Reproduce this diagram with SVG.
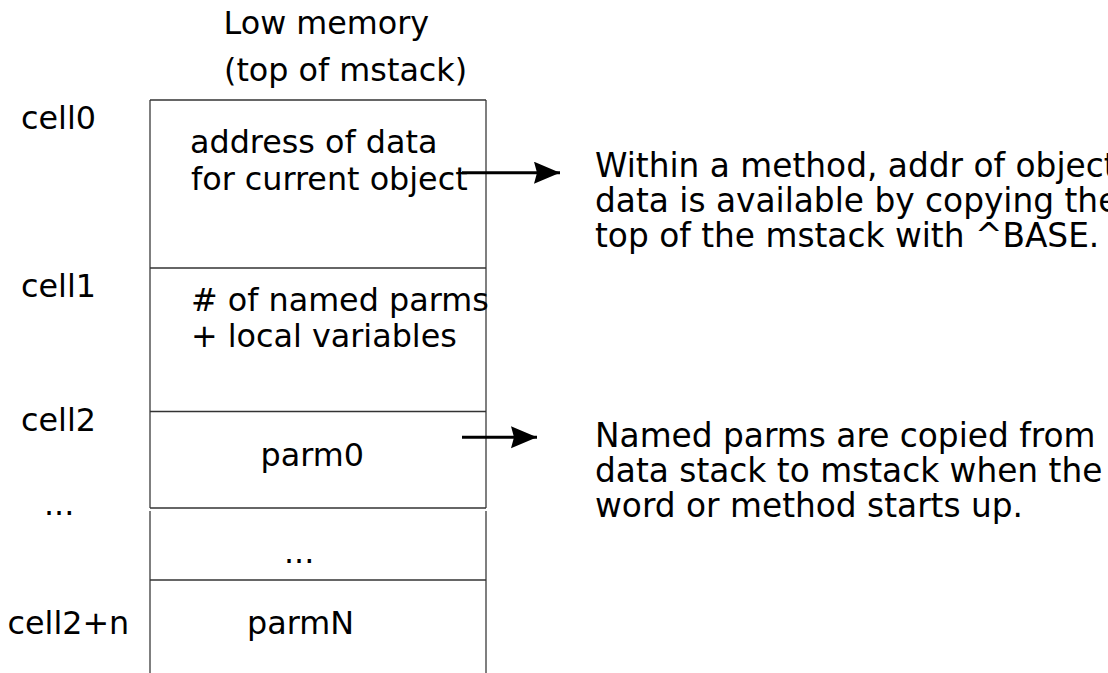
<svg xmlns="http://www.w3.org/2000/svg" width="1108" height="673" viewBox="0 0 1108 673">
<style>
text{font-family:"DejaVu Sans",sans-serif;font-size:31.8px;fill:#000}
.note text{font-size:32.8px}
.v{stroke:#7f7f7f;stroke-width:2;fill:none}
.h{stroke:#333;stroke-width:1.5;fill:none}
.arr{stroke:#000;stroke-width:3;fill:none;marker-end:url(#ah)}
</style>
<defs>
<marker id="ah" markerUnits="userSpaceOnUse" markerWidth="28" markerHeight="24" refX="26" refY="11" orient="auto" viewBox="0 0 28 24">
<path d="M0,0 L26,11 L0,22 L3,11 Z" fill="#000"/>
</marker>
</defs>
<rect width="1108" height="673" fill="#fff"/>
<g id="header">
<text x="223.6" y="34">Low memory</text>
<text x="224" y="81">(top of mstack)</text>
</g>
<g id="stack">
<line class="v" x1="150" y1="100" x2="150" y2="508"/>
<line class="v" x1="486" y1="100" x2="486" y2="508"/>
<line class="v" x1="150" y1="511" x2="150" y2="673"/>
<line class="v" x1="486" y1="511" x2="486" y2="673"/>
<line class="h" x1="150" y1="100" x2="486" y2="100"/>
<line class="h" x1="150" y1="268" x2="486" y2="268"/>
<line class="h" x1="150" y1="411.5" x2="486" y2="411.5"/>
<line class="h" x1="150" y1="508" x2="486" y2="508"/>
<line class="h" x1="150" y1="580" x2="486" y2="580"/>
</g>
<g id="cell0">
<text x="21" y="129">cell0</text>
<text x="190" y="153">address of data</text>
<text x="191" y="190">for current object</text>
</g>
<g id="cell1">
<text x="21" y="297">cell1</text>
<text x="191" y="310.5"># of named parms</text>
<text x="191" y="347">+ local variables</text>
</g>
<g id="cell2">
<text x="21" y="430.5">cell2</text>
<text x="260.5" y="466">parm0</text>
</g>
<g id="cellmid">
<text x="44" y="515">...</text>
<text x="284" y="562.5">...</text>
</g>
<g id="cellN">
<text x="7.5" y="634">cell2+n</text>
<text x="247" y="634">parmN</text>
</g>
<g id="note1" class="note">
<text x="595" y="176.5">Within a method, addr of object</text>
<text x="595" y="211.5">data is available by copying the</text>
<text x="595" y="246.5">top of the mstack with ^BASE.</text>
</g>
<g id="note2" class="note">
<text x="595" y="446.5">Named parms are copied from</text>
<text x="595" y="481.5">data stack to mstack when the</text>
<text x="595" y="516.5">word or method starts up.</text>
</g>
<g id="connectors">
<line class="arr" x1="462" y1="172.7" x2="560" y2="172.7"/>
<line class="arr" x1="462" y1="437.3" x2="537" y2="437.3"/>
</g>
</svg>
